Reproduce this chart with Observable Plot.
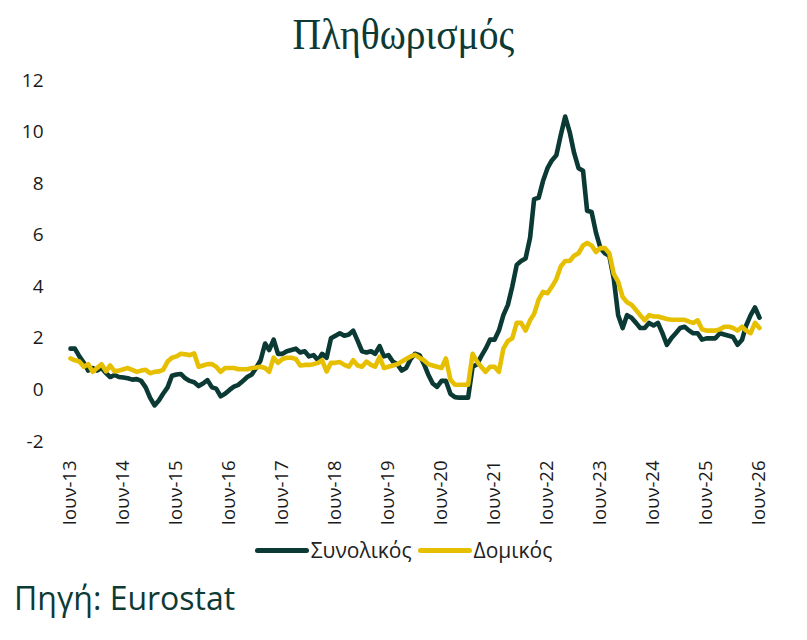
<!DOCTYPE html>
<html>
<head>
<meta charset="utf-8">
<script src="https://cdn.jsdelivr.net/npm/d3@7"></script>
<script src="https://cdn.jsdelivr.net/npm/@observablehq/plot@0.6"></script>
<style>
  body { margin: 0; background: #fff; }
  #wrap { position: relative; width: 807px; height: 640px; overflow: hidden; font-family: "Open Sans", sans-serif; }
  #title { position: absolute; left: 0; top: 8px; width: 807px; text-align: center;
           font-family: "Liberation Serif", serif; font-size: 45px; line-height: 52px; color: #0e3a35;
           transform: scaleX(0.88); transform-origin: 403px 0; }
  #chart { position: absolute; left: 0; top: 70px; }
  #legend { position: absolute; left: 0; top: 536px; width: 807px; display: flex; justify-content: center;
            align-items: center; font-size: 21px; color: #222; }
  #legend .sw { display: inline-block; width: 54px; height: 5px; border-radius: 3px; margin-right: 2px; }
  #legend .item { display: flex; align-items: center; margin: 0 3px; }
  #caption { position: absolute; left: 14px; top: 576px; font-size: 32px; color: #0e3a35; }
</style>
</head>
<body>
<div id="wrap">
  <div id="title">Πληθωρισμός</div>
  <div id="chart"></div>
  <div id="legend"></div>
  <div id="caption">Πηγή: Eurostat</div>
</div>
<script>
// Monthly annual inflation rates (%), June 2013 onwards
const headline = [
  1.6, 1.6, 1.3, 1.05, 0.75, 0.85, 0.75, 0.85, 0.65, 0.5, 0.58, 0.5,
  0.48, 0.45, 0.4, 0.42, 0.35, 0.1, -0.3, -0.6, -0.4, -0.15, 0.1, 0.55,
  0.6, 0.62, 0.45, 0.35, 0.3, 0.15, 0.25, 0.38, 0.1, 0.05, -0.25, -0.15,
  0.0, 0.13, 0.2, 0.35, 0.5, 0.6, 0.85, 1.15, 1.8, 1.55, 1.95, 1.4,
  1.4, 1.5, 1.55, 1.6, 1.45, 1.5, 1.3, 1.35, 1.15, 1.4, 1.25, 2.0,
  2.1, 2.2, 2.1, 2.15, 2.3, 1.9, 1.5, 1.45, 1.5, 1.4, 1.7, 1.3,
  1.35, 1.1, 1.0, 0.75, 0.85, 1.2, 1.4, 1.35, 1.0, 0.6, 0.25, 0.12,
  0.35, 0.35, -0.15, -0.28, -0.3, -0.3, -0.3, 0.9, 1.0, 1.3, 1.6, 1.95,
  1.95, 2.3, 2.9, 3.3, 4.0, 4.85, 5.0, 5.1, 5.9, 7.4, 7.45, 8.1,
  8.6, 8.9, 9.1, 9.9, 10.6, 10.0, 9.2, 8.6, 8.5, 6.95, 6.9, 6.1,
  5.5, 5.3, 5.2, 4.3, 2.9, 2.4, 2.9, 2.8, 2.6, 2.4, 2.4, 2.6,
  2.5, 2.6, 2.2, 1.75, 2.0, 2.2, 2.4, 2.45, 2.3, 2.2, 2.2, 1.95,
  2.0, 2.0, 2.0, 2.2, 2.15, 2.1, 2.05, 1.75, 1.95, 2.5, 2.9, 3.2,
  2.8
];
const core = [
  1.22, 1.15, 1.1, 0.9, 1.0, 0.7, 0.85, 1.0, 0.72, 0.95, 0.72, 0.75,
  0.8, 0.85, 0.78, 0.7, 0.75, 0.78, 0.65, 0.7, 0.72, 0.78, 1.1, 1.25,
  1.3, 1.4, 1.38, 1.35, 1.42, 0.9, 0.95, 1.0, 1.0, 0.9, 0.7, 0.85,
  0.85, 0.85, 0.8, 0.8, 0.8, 0.85, 0.87, 0.9, 0.85, 0.7, 1.25, 1.05,
  1.2, 1.25, 1.25, 1.2, 0.95, 0.97, 0.97, 1.0, 1.05, 1.15, 0.72, 1.05,
  1.05, 1.08, 0.97, 0.9, 1.15, 0.95, 0.9, 1.1, 0.97, 0.9, 1.28, 0.85,
  0.9, 0.95, 1.0, 1.1, 1.2, 1.3, 1.36, 1.25, 1.15, 1.0, 0.95, 0.9,
  0.85, 1.22, 0.4, 0.2, 0.2, 0.2, 0.2, 1.4, 1.1, 0.9, 0.7, 0.9,
  0.9, 0.7, 1.6, 1.9, 2.0, 2.6, 2.6, 2.3, 2.7, 2.95, 3.5, 3.8,
  3.75, 4.0, 4.3, 4.8, 5.0, 5.0, 5.2, 5.3, 5.6, 5.7, 5.6, 5.35,
  5.5, 5.5, 5.3, 4.5, 4.2, 3.6, 3.4, 3.3, 3.1, 2.9, 2.7, 2.9,
  2.85, 2.85, 2.8, 2.75, 2.72, 2.72, 2.72, 2.72, 2.65, 2.6, 2.7, 2.35,
  2.3, 2.3, 2.3, 2.35, 2.45, 2.45, 2.4, 2.3, 2.45, 2.3, 2.2, 2.6,
  2.4
];
const seriesNames = ["Συνολικός", "Δομικός"];
const seriesColors = ["#0b3a35", "#e6c000"];
const tickLabels = ["Ιουν-13", "Ιουν-14", "Ιουν-15", "Ιουν-16", "Ιουν-17", "Ιουν-18", "Ιουν-19",
                    "Ιουν-20", "Ιουν-21", "Ιουν-22", "Ιουν-23", "Ιουν-24", "Ιουν-25", "Ιουν-26"];
const yTicks = [-2, 0, 2, 4, 6, 8, 10, 12];

// One date per observation, first observation June 2013
const months = headline.map((_, i) => new Date(Date.UTC(2013, 5 + i, 1)));
const tickDates = tickLabels.map((_, k) => months[k * 12]);

const rows = [
  ...headline.map((v, i) => ({date: months[i], value: v, series: seriesNames[0]})),
  ...core.map((v, i) => ({date: months[i], value: v, series: seriesNames[1]}))
];

const chart = Plot.plot({
  width: 807,
  height: 470,
  marginTop: 10,
  marginBottom: 99,
  marginLeft: 70,
  marginRight: 48,
  style: {fontFamily: "Open Sans, sans-serif", fontSize: "19px", color: "#1a1a1a", background: "transparent", overflow: "visible"},
  x: {type: "utc", domain: [months[0], months[months.length - 1]]},
  y: {domain: [-2, 12]},
  color: {domain: seriesNames, range: seriesColors},
  marks: [
    Plot.axisY(yTicks, {tickSize: 0, tickPadding: 27, label: null, fontSize: 19, tickFormat: d => String(d)}),
    Plot.axisX(tickDates, {
      tickSize: 0, tickPadding: 19, tickRotate: -90, label: null, fontSize: 18.5,
      tickFormat: d => tickLabels[tickDates.findIndex(t => +t === +d)]
    }),
    Plot.lineY(rows.filter(r => r.series === seriesNames[0]),
      {x: "date", y: "value", stroke: "series", strokeWidth: 4.6}),
    Plot.lineY(rows.filter(r => r.series === seriesNames[1]),
      {x: "date", y: "value", stroke: "series", strokeWidth: 4.6})
  ]
});
document.getElementById("chart").append(chart);

// Legend built from the same series names and colours
const legend = document.getElementById("legend");
seriesNames.forEach((name, i) => {
  const item = document.createElement("span");
  item.className = "item";
  const sw = document.createElement("span");
  sw.className = "sw";
  sw.style.background = seriesColors[i];
  item.append(sw, document.createTextNode(name));
  legend.append(item);
});
</script>
</body>
</html>
